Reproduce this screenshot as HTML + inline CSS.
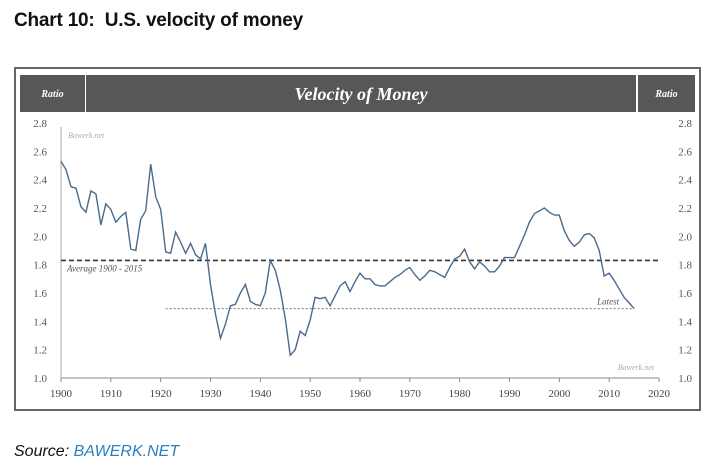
<!DOCTYPE html>
<html><head><meta charset="utf-8">
<style>
body{margin:0;width:728px;height:470px;background:#fff;font-family:"Liberation Sans",sans-serif;overflow:hidden;position:relative}
#title{position:absolute;left:14px;top:10px;font-size:19px;font-weight:bold;color:#111;letter-spacing:-0.2px}
#src{position:absolute;left:14px;top:443px;font-size:16px;font-style:italic;color:#111}
#src span{color:#2a7fc0}
svg{position:absolute;left:0;top:0}
</style></head><body>
<div id="title">Chart 10:&nbsp; U.S. velocity of money</div>
<div id="src">Source: <span>BAWERK.NET</span></div>
<svg id="chart" width="728" height="470"></svg>
<script>
const startYear=1900;
const velocity=[2.53,2.47,2.35,2.34,2.21,2.17,2.32,2.30,2.08,2.23,2.19,2.10,2.14,2.17,1.91,1.90,2.12,2.18,2.51,2.28,2.19,1.89,1.88,2.03,1.96,1.88,1.95,1.87,1.84,1.95,1.66,1.45,1.28,1.38,1.51,1.52,1.60,1.66,1.54,1.52,1.51,1.60,1.83,1.76,1.62,1.42,1.16,1.20,1.33,1.30,1.41,1.57,1.56,1.57,1.51,1.58,1.65,1.68,1.61,1.68,1.74,1.70,1.70,1.66,1.65,1.65,1.68,1.71,1.73,1.76,1.78,1.73,1.69,1.72,1.76,1.75,1.73,1.71,1.78,1.84,1.86,1.91,1.82,1.77,1.82,1.79,1.75,1.75,1.79,1.85,1.85,1.85,1.93,2.01,2.10,2.16,2.18,2.20,2.17,2.15,2.15,2.04,1.97,1.93,1.96,2.01,2.02,1.99,1.90,1.72,1.74,1.69,1.63,1.57,1.53,1.49];
const average=[1.83];
const latest=[1.49];
const yTicks=[1.0,1.2,1.4,1.6,1.8,2.0,2.2,2.4,2.6,2.8];
const xTicks=[1900,1910,1920,1930,1940,1950,1960,1970,1980,1990,2000,2010,2020];
const NS='http://www.w3.org/2000/svg';
const svg=document.getElementById('chart');
const X=y=>61+(y-1900)*(598/120);
const Y=v=>378-(v-1.0)*(255/1.8);
function mk(t,a,parent){const e=document.createElementNS(NS,t);for(const k in a)e.setAttribute(k,a[k]);(parent||svg).appendChild(e);return e;}
let e;
e=mk('rect',{x:15,y:68,width:685,height:342,fill:'#fff',stroke:'#666','stroke-width':2});


[[20,65,'Ratio',10,'ratio-left-header'],[86,550,'Velocity of Money',18,'chart-header-title'],[638,57,'Ratio',10,'ratio-right-header']].forEach(h=>{
 e=mk('rect',{x:h[0],y:75,width:h[1],height:37,fill:'#575757'});
 
 
 e=mk('text',{x:h[0]+h[1]/2,y:h[3]>12?100:97,'text-anchor':'middle',fill:'#fff','font-size':h[3],'font-weight':'bold','font-style':'italic','font-family':'Liberation Serif,serif'});
 e.textContent=h[2];
 
 
});
yTicks.forEach(t=>{
 e=mk('text',{x:47,y:Y(t)+4,'text-anchor':'end','font-size':11,fill:'#555','font-family':'Liberation Serif,serif'});e.textContent=t.toFixed(1);
 
 
 e=mk('text',{x:692,y:Y(t)+4,'text-anchor':'end','font-size':11,fill:'#555','font-family':'Liberation Serif,serif'});e.textContent=t.toFixed(1);
 
 
});
xTicks.forEach(t=>{
 e=mk('text',{x:X(t),y:397,'text-anchor':'middle','font-size':11,fill:'#444','font-family':'Liberation Serif,serif'});e.textContent=t;
 
 
 e=mk('line',{x1:X(t),x2:X(t),y1:378,y2:382,stroke:'#888'});
 
 
});
e=mk('line',{x1:61,x2:659,y1:378,y2:378,stroke:'#888'});


e=mk('line',{x1:61,x2:61,y1:127,y2:378,stroke:'#aaa'});


e=mk('line',{x1:61,x2:659,y1:Y(average[0]),y2:Y(average[0]),stroke:'#333','stroke-width':1.6,'stroke-dasharray':'5,3'});


e=mk('text',{x:67,y:Y(average[0])+11,'font-size':9,'font-style':'italic',fill:'#555','font-family':'Liberation Serif,serif'});e.textContent='Average 1900 - 2015';


e=mk('line',{x1:X(1921),x2:X(2015),y1:Y(latest[0]),y2:Y(latest[0]),stroke:'#777','stroke-width':1,'stroke-dasharray':'2,2'});


e=mk('text',{x:X(2012),y:Y(latest[0])-4,'text-anchor':'end','font-size':9,'font-style':'italic',fill:'#555','font-family':'Liberation Serif,serif'});e.textContent='Latest';


e=mk('text',{x:68,y:138,'font-size':8,'font-style':'italic',fill:'#aaa','font-family':'Liberation Serif,serif'});e.textContent='Bawerk.net';


e=mk('text',{x:654,y:370,'text-anchor':'end','font-size':8,'font-style':'italic',fill:'#aaa','font-family':'Liberation Serif,serif'});e.textContent='Bawerk.net';


e=mk('polyline',{points:velocity.map((v,i)=>X(startYear+i).toFixed(1)+','+Y(v).toFixed(1)).join(' '),fill:'none',stroke:'#4a6a8c','stroke-width':1.4});


</script>
</body></html>
